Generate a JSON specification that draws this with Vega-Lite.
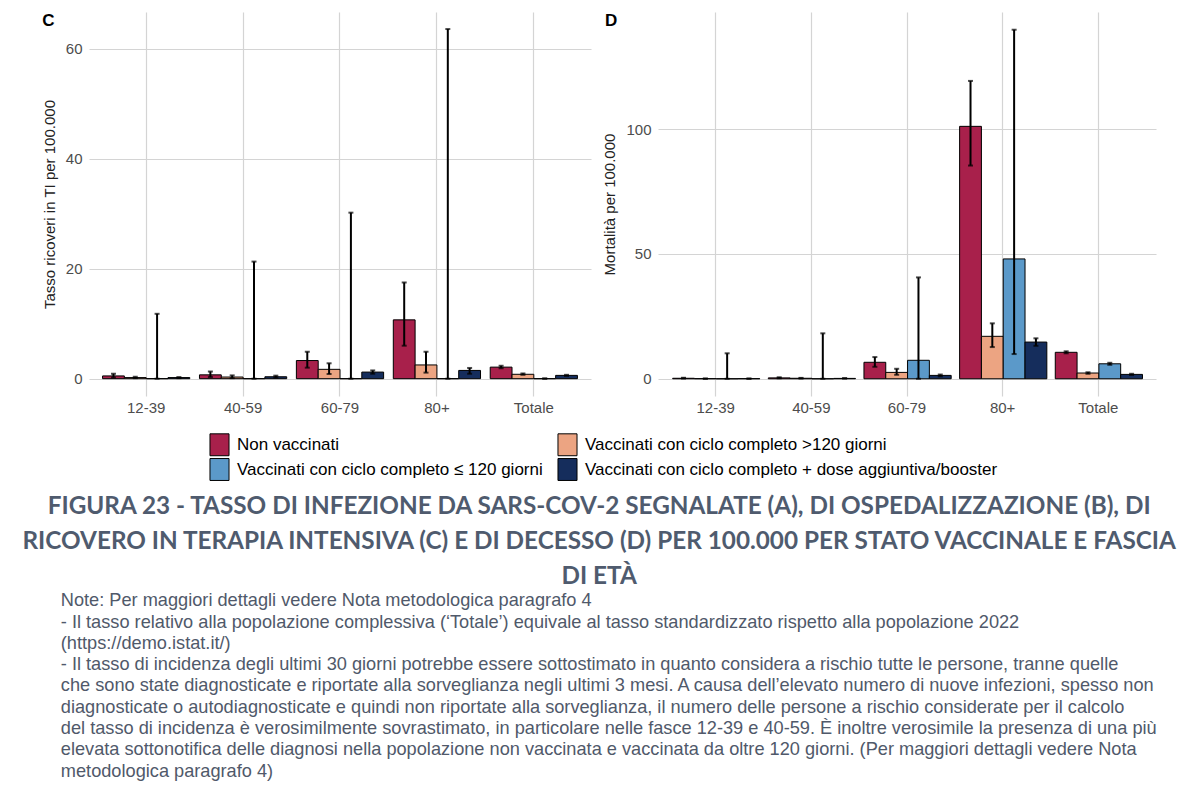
{
  "$schema": "https://vega.github.io/schema/vega-lite/v6.json",
  "background": "white",
  "padding": {"left": 20, "top": 12, "right": 5, "bottom": 5},
  "config": {
    "font": "Liberation Sans",
    "view": {"stroke": null},
    "axis": {"domain": false, "ticks": false, "gridColor": "#d4d4d4", "gridWidth": 1.2, "labelColor": "#4d4d4d", "labelFontSize": 15, "titleFontWeight": "normal", "titleColor": "#222222", "titleFontSize": 15}
  },
  "datasets": {
    "d": [
      {"panel": "C", "eta": "12-39", "stato": "Non vaccinati", "v": 0.5, "lo": 0.2, "hi": 0.9},
      {"panel": "C", "eta": "12-39", "stato": "Vaccinati con ciclo completo >120 giorni", "v": 0.2, "lo": 0.1, "hi": 0.35},
      {"panel": "C", "eta": "12-39", "stato": "Vaccinati con ciclo completo ≤ 120 giorni", "v": 0, "lo": 0, "hi": 11.8},
      {"panel": "C", "eta": "12-39", "stato": "Vaccinati con ciclo completo + dose aggiuntiva/booster", "v": 0.2, "lo": 0.1, "hi": 0.3},
      {"panel": "C", "eta": "40-59", "stato": "Non vaccinati", "v": 0.7, "lo": 0.3, "hi": 1.3},
      {"panel": "C", "eta": "40-59", "stato": "Vaccinati con ciclo completo >120 giorni", "v": 0.3, "lo": 0.1, "hi": 0.6},
      {"panel": "C", "eta": "40-59", "stato": "Vaccinati con ciclo completo ≤ 120 giorni", "v": 0, "lo": 0, "hi": 21.3},
      {"panel": "C", "eta": "40-59", "stato": "Vaccinati con ciclo completo + dose aggiuntiva/booster", "v": 0.35, "lo": 0.2, "hi": 0.55},
      {"panel": "C", "eta": "60-79", "stato": "Non vaccinati", "v": 3.3, "lo": 2.0, "hi": 4.9},
      {"panel": "C", "eta": "60-79", "stato": "Vaccinati con ciclo completo >120 giorni", "v": 1.7, "lo": 0.85, "hi": 2.8},
      {"panel": "C", "eta": "60-79", "stato": "Vaccinati con ciclo completo ≤ 120 giorni", "v": 0, "lo": 0, "hi": 30.2},
      {"panel": "C", "eta": "60-79", "stato": "Vaccinati con ciclo completo + dose aggiuntiva/booster", "v": 1.2, "lo": 0.9, "hi": 1.5},
      {"panel": "C", "eta": "80+", "stato": "Non vaccinati", "v": 10.7, "lo": 6.0, "hi": 17.5},
      {"panel": "C", "eta": "80+", "stato": "Vaccinati con ciclo completo >120 giorni", "v": 2.5, "lo": 1.1, "hi": 4.9},
      {"panel": "C", "eta": "80+", "stato": "Vaccinati con ciclo completo ≤ 120 giorni", "v": 0, "lo": 0, "hi": 63.6},
      {"panel": "C", "eta": "80+", "stato": "Vaccinati con ciclo completo + dose aggiuntiva/booster", "v": 1.5, "lo": 0.9, "hi": 1.95},
      {"panel": "C", "eta": "Totale", "stato": "Non vaccinati", "v": 2.1, "lo": 1.9, "hi": 2.35},
      {"panel": "C", "eta": "Totale", "stato": "Vaccinati con ciclo completo >120 giorni", "v": 0.8, "lo": 0.7, "hi": 0.95},
      {"panel": "C", "eta": "Totale", "stato": "Vaccinati con ciclo completo ≤ 120 giorni", "v": 0, "lo": 0, "hi": 0.05},
      {"panel": "C", "eta": "Totale", "stato": "Vaccinati con ciclo completo + dose aggiuntiva/booster", "v": 0.6, "lo": 0.5, "hi": 0.7},
      {"panel": "D", "eta": "12-39", "stato": "Non vaccinati", "v": 0.2, "lo": 0.1, "hi": 0.4},
      {"panel": "D", "eta": "12-39", "stato": "Vaccinati con ciclo completo >120 giorni", "v": 0.05, "lo": 0.02, "hi": 0.1},
      {"panel": "D", "eta": "12-39", "stato": "Vaccinati con ciclo completo ≤ 120 giorni", "v": 0, "lo": 0, "hi": 10.2},
      {"panel": "D", "eta": "12-39", "stato": "Vaccinati con ciclo completo + dose aggiuntiva/booster", "v": 0.05, "lo": 0.02, "hi": 0.1},
      {"panel": "D", "eta": "40-59", "stato": "Non vaccinati", "v": 0.35, "lo": 0.2, "hi": 0.6},
      {"panel": "D", "eta": "40-59", "stato": "Vaccinati con ciclo completo >120 giorni", "v": 0.2, "lo": 0.1, "hi": 0.35},
      {"panel": "D", "eta": "40-59", "stato": "Vaccinati con ciclo completo ≤ 120 giorni", "v": 0, "lo": 0, "hi": 18.2},
      {"panel": "D", "eta": "40-59", "stato": "Vaccinati con ciclo completo + dose aggiuntiva/booster", "v": 0.15, "lo": 0.1, "hi": 0.25},
      {"panel": "D", "eta": "60-79", "stato": "Non vaccinati", "v": 6.6, "lo": 4.8, "hi": 8.7},
      {"panel": "D", "eta": "60-79", "stato": "Vaccinati con ciclo completo >120 giorni", "v": 2.55, "lo": 1.6, "hi": 4.0},
      {"panel": "D", "eta": "60-79", "stato": "Vaccinati con ciclo completo ≤ 120 giorni", "v": 7.4, "lo": 0, "hi": 40.6},
      {"panel": "D", "eta": "60-79", "stato": "Vaccinati con ciclo completo + dose aggiuntiva/booster", "v": 1.35, "lo": 1.0, "hi": 1.7},
      {"panel": "D", "eta": "80+", "stato": "Non vaccinati", "v": 101.1, "lo": 85.4, "hi": 119.3},
      {"panel": "D", "eta": "80+", "stato": "Vaccinati con ciclo completo >120 giorni", "v": 17.0, "lo": 12.7, "hi": 22.2},
      {"panel": "D", "eta": "80+", "stato": "Vaccinati con ciclo completo ≤ 120 giorni", "v": 48.0, "lo": 9.9, "hi": 139.8},
      {"panel": "D", "eta": "80+", "stato": "Vaccinati con ciclo completo + dose aggiuntiva/booster", "v": 14.7, "lo": 13.2, "hi": 16.2},
      {"panel": "D", "eta": "Totale", "stato": "Non vaccinati", "v": 10.6, "lo": 10.2, "hi": 11.0},
      {"panel": "D", "eta": "Totale", "stato": "Vaccinati con ciclo completo >120 giorni", "v": 2.3, "lo": 2.0, "hi": 2.6},
      {"panel": "D", "eta": "Totale", "stato": "Vaccinati con ciclo completo ≤ 120 giorni", "v": 6.0, "lo": 5.6, "hi": 6.4},
      {"panel": "D", "eta": "Totale", "stato": "Vaccinati con ciclo completo + dose aggiuntiva/booster", "v": 1.75, "lo": 1.5, "hi": 2.0}
    ]
  },
  "data": {"name": "d"},
  "vconcat": [
    {
      "hconcat": [
        {
          "width": 502,
          "height": 384,
          "title": {"text": "C", "anchor": "start", "frame": "bounds", "fontSize": 17, "fontWeight": "bold", "color": "#000000", "offset": -18, "dx": 0},
          "transform": [{"filter": "datum.panel === 'C'"}],
          "encoding": {
            "x": {"field": "eta", "type": "nominal", "sort": ["12-39", "40-59", "60-79", "80+", "Totale"], "scale": {"paddingInner": 0.1, "paddingOuter": 0.14}, "axis": {"title": null, "grid": true, "labelAngle": 0, "labelPadding": 4}},
            "xOffset": {"field": "stato", "type": "nominal", "sort": ["Non vaccinati", "Vaccinati con ciclo completo >120 giorni", "Vaccinati con ciclo completo ≤ 120 giorni", "Vaccinati con ciclo completo + dose aggiuntiva/booster"], "scale": {"paddingInner": 0, "paddingOuter": 0}}
          },
          "layer": [
            {
              "mark": {"type": "bar", "stroke": "#000000", "strokeWidth": 1},
              "encoding": {
                "y": {"field": "v", "type": "quantitative", "scale": {"domain": [-3.15, 66.7], "nice": false, "zero": false}, "axis": {"title": "Tasso ricoveri in TI per 100.000", "values": [0, 20, 40, 60], "grid": true, "labelPadding": 7, "titlePadding": 8}},
                "y2": {"datum": 0},
                "color": {
                  "field": "stato", "type": "nominal",
                  "scale": {"domain": ["Non vaccinati", "Vaccinati con ciclo completo ≤ 120 giorni", "Vaccinati con ciclo completo >120 giorni", "Vaccinati con ciclo completo + dose aggiuntiva/booster"], "range": ["#a8204b", "#5b99c9", "#eca482", "#152d5c"]},
                  "legend": {"orient": "none", "legendX": 119, "legendY": 421, "columns": 2, "title": null, "symbolType": "M-0.87,-1H0.87V1H-0.87Z", "symbolSize": 480, "symbolStrokeColor": "#000000", "symbolStrokeWidth": 1, "symbolOpacity": 1, "labelFontSize": 17, "labelColor": "#000000", "labelLimit": 500, "columnPadding": 12, "rowPadding": -3, "labelOffset": 6}
                }
              }
            },
            {
              "mark": {"type": "rule", "strokeWidth": 2, "color": "#000000"},
              "encoding": {"y": {"field": "lo", "type": "quantitative", "title": "Tasso ricoveri in TI per 100.000"}, "y2": {"field": "hi"}}
            },
            {
              "mark": {"type": "tick", "orient": "horizontal", "size": 5, "thickness": 2, "color": "#000000"},
              "encoding": {"y": {"field": "lo", "type": "quantitative", "title": "Tasso ricoveri in TI per 100.000"}}
            },
            {
              "mark": {"type": "tick", "orient": "horizontal", "size": 5, "thickness": 2, "color": "#000000"},
              "encoding": {"y": {"field": "hi", "type": "quantitative", "title": "Tasso ricoveri in TI per 100.000"}}
            }
          ]
        },
        {
          "width": 498,
          "height": 384,
          "title": {"text": "D", "anchor": "start", "frame": "bounds", "fontSize": 17, "fontWeight": "bold", "color": "#000000", "offset": -18, "dx": 2},
          "transform": [{"filter": "datum.panel === 'D'"}],
          "encoding": {
            "x": {"field": "eta", "type": "nominal", "sort": ["12-39", "40-59", "60-79", "80+", "Totale"], "scale": {"paddingInner": 0.1, "paddingOuter": 0.153}, "axis": {"title": null, "grid": true, "labelAngle": 0, "labelPadding": 4}},
            "xOffset": {"field": "stato", "type": "nominal", "sort": ["Non vaccinati", "Vaccinati con ciclo completo >120 giorni", "Vaccinati con ciclo completo ≤ 120 giorni", "Vaccinati con ciclo completo + dose aggiuntiva/booster"], "scale": {"paddingInner": 0, "paddingOuter": 0}}
          },
          "layer": [
            {
              "mark": {"type": "bar", "stroke": "#000000", "strokeWidth": 1},
              "encoding": {
                "y": {"field": "v", "type": "quantitative", "scale": {"domain": [-6.9, 146.9], "nice": false, "zero": false}, "axis": {"title": "Mortalità per 100.000", "values": [0, 50, 100], "grid": true, "labelPadding": 7, "titlePadding": 8}},
                "y2": {"datum": 0},
                "color": {"field": "stato", "type": "nominal"}
              }
            },
            {
              "mark": {"type": "rule", "strokeWidth": 2, "color": "#000000"},
              "encoding": {"y": {"field": "lo", "type": "quantitative", "title": "Mortalità per 100.000"}, "y2": {"field": "hi"}}
            },
            {
              "mark": {"type": "tick", "orient": "horizontal", "size": 5, "thickness": 2, "color": "#000000"},
              "encoding": {"y": {"field": "lo", "type": "quantitative", "title": "Mortalità per 100.000"}}
            },
            {
              "mark": {"type": "tick", "orient": "horizontal", "size": 5, "thickness": 2, "color": "#000000"},
              "encoding": {"y": {"field": "hi", "type": "quantitative", "title": "Mortalità per 100.000"}}
            }
          ]
        }
      ],
      "spacing": 11,
      "title": {
        "text": ["FIGURA 23 - TASSO DI INFEZIONE DA SARS-COV-2 SEGNALATE (A), DI OSPEDALIZZAZIONE (B), DI", "RICOVERO IN TERAPIA INTENSIVA (C) E DI DECESSO (D) PER 100.000 PER STATO VACCINALE E FASCIA", "DI ETÀ"],
        "orient": "bottom", "anchor": "middle", "font": "Lato", "fontSize": 24.3, "fontWeight": "bold", "color": "#4f5b6e", "lineHeight": 35, "offset": 12
      }
    }
  ],
  "resolve": {"legend": {"color": "independent"}},
  "title": {
    "text": [
      "Note: Per maggiori dettagli vedere Nota metodologica paragrafo 4",
      "- Il tasso relativo alla popolazione complessiva (‘Totale’) equivale al tasso standardizzato rispetto alla popolazione 2022",
      "(https://demo.istat.it/)",
      "- Il tasso di incidenza degli ultimi 30 giorni potrebbe essere sottostimato in quanto considera a rischio tutte le persone, tranne quelle",
      "che sono state diagnosticate e riportate alla sorveglianza negli ultimi 3 mesi. A causa dell’elevato numero di nuove infezioni, spesso non",
      "diagnosticate o autodiagnosticate e quindi non riportate alla sorveglianza, il numero delle persone a rischio considerate per il calcolo",
      "del tasso di incidenza è verosimilmente sovrastimato, in particolare nelle fasce 12-39 e 40-59. È inoltre verosimile la presenza di una più",
      "elevata sottonotifica delle diagnosi nella popolazione non vaccinata e vaccinata da oltre 120 giorni. (Per maggiori dettagli vedere Nota",
      "metodologica paragrafo 4)"
    ],
    "orient": "bottom", "anchor": "start", "font": "Liberation Sans", "fontSize": 18.2, "fontWeight": "normal", "color": "#50596a", "lineHeight": 21.3, "offset": 3, "dx": 40
  }
}
